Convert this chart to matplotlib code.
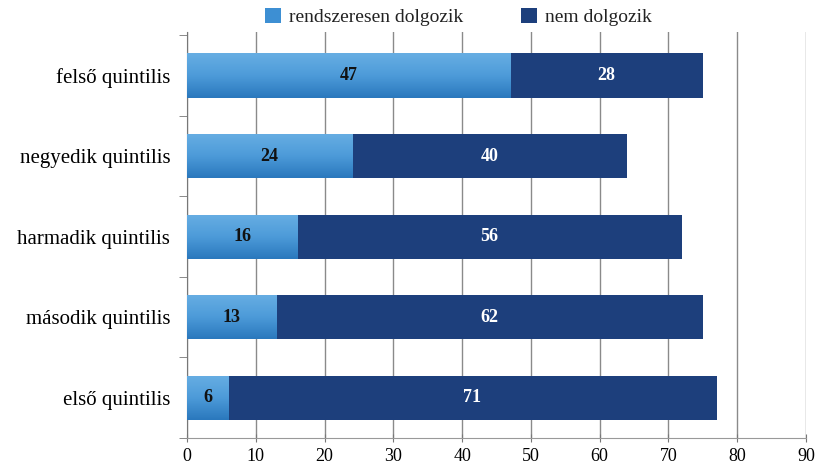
import numpy as np
import matplotlib.pyplot as plt
from matplotlib.colors import LinearSegmentedColormap

# adatok
kategoriak = ['első quintilis', 'második quintilis', 'harmadik quintilis',
              'negyedik quintilis', 'felső quintilis']
dolgozik = [6, 13, 16, 24, 47]
nem_dolgozik = [71, 62, 56, 40, 28]
xticks = [0, 10, 20, 30, 40, 50, 60, 70, 80, 90]

plt.rcParams['font.family'] = ['Liberation Serif', 'DejaVu Serif']

fig = plt.figure(figsize=(8.26, 4.72), dpi=100)
ax = fig.add_axes([0.2264, 0.072, 0.7494, 0.86])

y = np.arange(len(kategoriak))
h = 0.55
szin_vilagos = '#3d8fd3'
szin_sotet = '#1d3f7c'

b1 = ax.barh(y, dolgozik, h, color=szin_vilagos, label='rendszeresen dolgozik', zorder=3)
b2 = ax.barh(y, nem_dolgozik, h, left=dolgozik, color=szin_sotet, label='nem dolgozik', zorder=3)

# színátmenet a világos oszlopokon
cmap = LinearSegmentedColormap.from_list('kek', ['#2a78bd', '#4d9bd9', '#67aee3'])
grad = np.linspace(0, 1, 100).reshape(-1, 1)
for rect in b1:
    x0, y0 = rect.get_x(), rect.get_y()
    w, hh = rect.get_width(), rect.get_height()
    im = ax.imshow(grad, cmap=cmap, aspect='auto', origin='lower',
                   extent=[x0, x0 + w, y0, y0 + hh], zorder=3.5)
    im.set_clip_path(rect)

for rect, v in zip(b1, dolgozik):
    ax.text(rect.get_x() + rect.get_width() / 2, rect.get_y() + rect.get_height() / 2,
            str(v), ha='center', va='center', fontsize=13, fontweight='bold',
            color='#111111', zorder=4)
for rect, v in zip(b2, nem_dolgozik):
    ax.text(rect.get_x() + rect.get_width() / 2, rect.get_y() + rect.get_height() / 2,
            str(v), ha='center', va='center', fontsize=13, fontweight='bold',
            color='white', zorder=4)

ax.set_xlim(0, 90)
ax.set_ylim(-0.46, len(kategoriak) - 0.46)
ax.set_xticks(xticks)
ax.tick_params(axis='x', labelsize=13, length=6, direction='inout', color='#777777', pad=4)
ax.set_yticks(y)
ax.set_yticklabels(kategoriak, fontsize=15)
ax.set_yticks(np.arange(-0.5, len(kategoriak), 1), minor=True)
ax.tick_params(axis='y', which='major', length=0, pad=12)
ax.tick_params(axis='y', which='minor', length=6, color='#777777')
ax.xaxis.grid(True, color='#8a8a8a', linewidth=1.0, zorder=0)

for s in ['top', 'right']:
    ax.spines[s].set_visible(False)
ax.spines['left'].set_color('#777777')
ax.spines['bottom'].set_color('#999999')

leg = fig.legend(loc='upper center', bbox_to_anchor=(0.555, 1.02), ncol=2, frameon=False,
                 fontsize=14, handlelength=0.8, handleheight=0.8, columnspacing=3.0,
                 handletextpad=0.4)
for t in leg.get_texts():
    t.set_fontfamily(['Liberation Serif', 'DejaVu Serif'])
    t.set_color('#222222')

plt.savefig('out.png')
